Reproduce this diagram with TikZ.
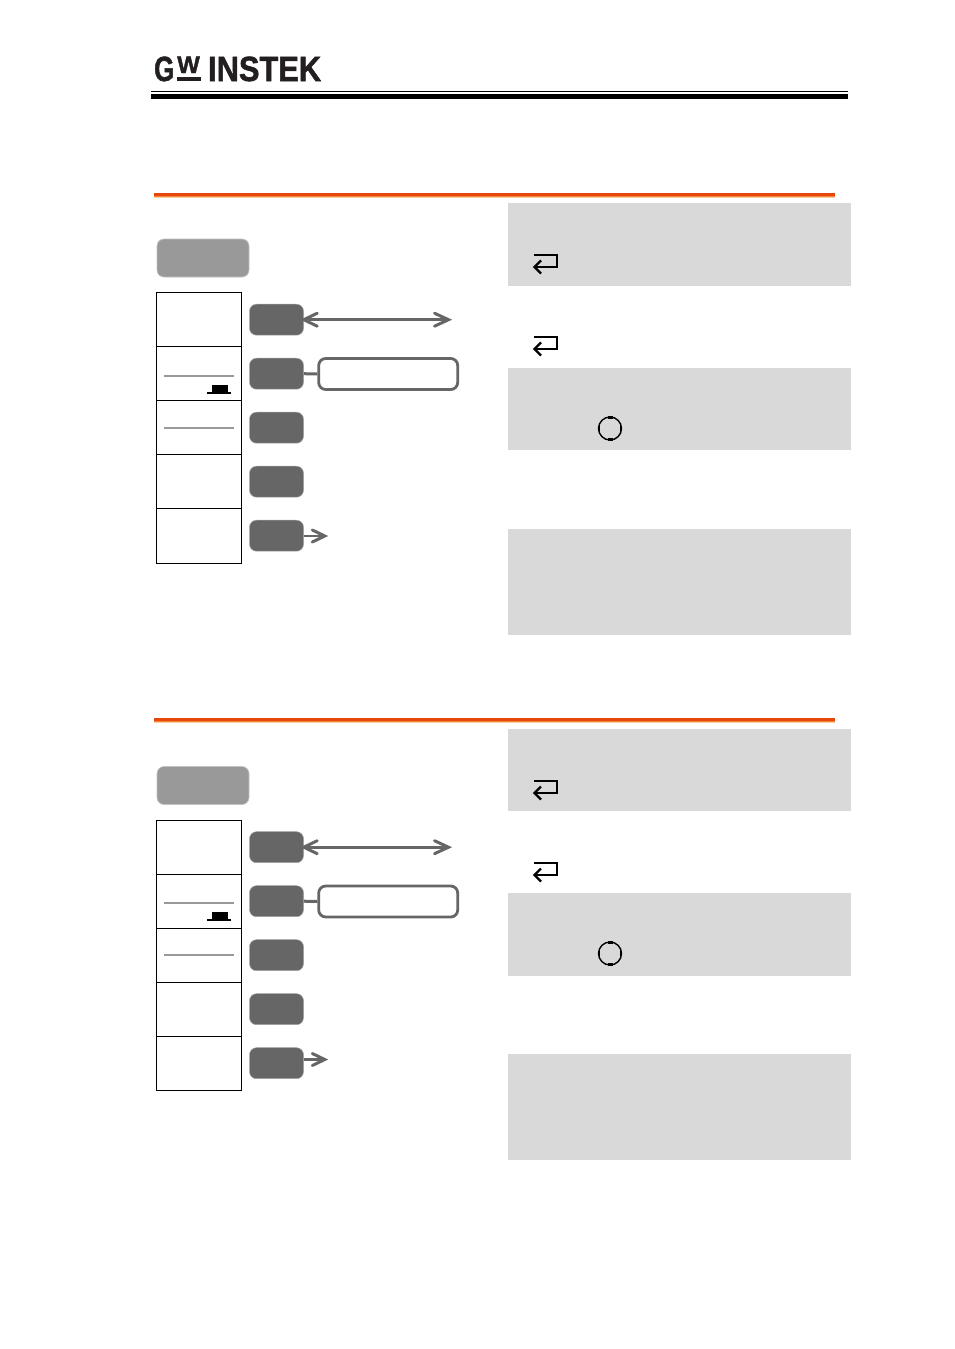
\documentclass[tikz,border=0pt]{standalone}
\usepackage{fontspec}
\setmainfont{Liberation Sans}
\newfontfamily\logofont[UprightFont=* Bold, RawFeature={embolden=1.6}]{Liberation Sans}
\usepackage{xcolor}
\definecolor{logoblack}{HTML}{231F20}
\definecolor{softgrey}{HTML}{D9D9D9}
\definecolor{keydark}{HTML}{666666}
\definecolor{keylight}{HTML}{999999}
\definecolor{ruleA}{HTML}{E8460A}
\definecolor{ruleB}{HTML}{F0893C}
\definecolor{ruleC}{HTML}{F9CBA3}
\tikzset{
	softkey/.style={rectangle, rounded corners=7pt, fill=keydark, draw=keydark!60!white, line width=0.5pt, minimum width=54pt, minimum height=31pt, inner sep=0pt},
	menukey/.style={rectangle, rounded corners=7pt, fill=keylight, draw=keylight!60!white, line width=0.6pt, minimum width=92pt, minimum height=38pt, inner sep=0pt},
	menucell/.style={rectangle, draw=black, line width=1.1pt, minimum width=85pt, minimum height=54pt, inner sep=0pt, outer sep=0pt, anchor=north},
	rangebox/.style={rectangle, rounded corners=7pt, draw=keydark, line width=2.8pt, fill=white, minimum width=139pt, minimum height=31pt, inner sep=0pt},
	keyline/.style={draw=keydark, line width=3pt},
	logotext/.style={inner sep=0pt, text=logoblack, anchor=base west},
}
\begin{document}
\begin{tikzpicture}[x=1pt,y=-1pt]
	\useasboundingbox (0,0) rectangle (954,1349);
	% header
	\node[logotext, xscale=0.74, font=\fontsize{35}{35}\selectfont\logofont] (logoG) at (154,81) {G};
	\node[logotext, font=\fontsize{24}{24}\selectfont\logofont] (logoW) at (177,73) {W};
	\node[logotext, xscale=0.88, font=\fontsize{35}{35}\selectfont\logofont] (logoName) at (208,81) {INSTEK};
	\fill[logoblack] (177,77) rectangle (201,81);
	\fill[black] (151,91) rectangle (848,92);
	\fill[black] (151,94) rectangle (848,99);
	% orange rules
	\foreach \y in {193,718} {
		\fill[ruleC] (154,\y) rectangle (835,\y+5);
		\fill[ruleB] (154,\y) rectangle (835,\y+4);
		\fill[ruleA] (154,\y) rectangle (835,\y+2.7);
	}
	% grey blocks on the right
	\foreach \top/\bot in {203/286, 368/450, 529/635, 729/811, 893/976, 1054/1160}
		\fill[softgrey] (508,\top) rectangle (851,\bot);
	% enter symbols
	\foreach \y in {255,337,781,863} {
		\draw[black, line width=2.3pt] (534,\y) -- (557,\y) -- (557,\y+12) -- (535,\y+12);
		\draw[black, line width=2.3pt] (541,\y+5.5) -- (534.5,\y+12) -- (541,\y+18.5);
	}
	% knobs
	\foreach \y in {428.5,953.5} {
		\draw[black, line width=1.4pt] (610,\y) circle (11.5);
		\fill[black] (607.5,\y-12.2) rectangle (612.5,\y-9.6);
		\fill[black] (607.5,\y+9.6) rectangle (612.5,\y+12.2);
		\fill[black] (597.8,\y-2.5) rectangle (600.4,\y+2.5);
		\fill[black] (619.6,\y-2.5) rectangle (622.2,\y+2.5);
	}
	% the two key panels
	\foreach \p/\dy/\dcell/\dmark/\ytip/\hlast in {A/0/0/0/536/55, B/527.5/528/527/1059.5/54} {
		\node[menukey] (top\p) at (203,258+\dy) {};
		\foreach \i in {1,...,4}
			\node[menucell] (cell\p\i) at (199,292.5+54*\i-54+\dcell) {};
		\node[menucell, minimum height=\hlast pt] (cell\p5) at (199,508.5+\dcell) {};
		\foreach \i in {1,...,5}
			\node[softkey] (key\p\i) at (276.5,319.7+54*\i-54+\dy) {};
		% second and third cell marks
		\draw[keylight, line width=2pt] (164,375.7+\dmark) -- (234,375.7+\dmark);
		\draw[keylight, line width=2pt] (164,427.7+\dmark) -- (234,427.7+\dmark);
		\fill[black] (212-\dmark/1054,385+\dmark) rectangle (228-\dmark/1054,393+\dmark);
		\fill[black] (207-\dmark/1054,392+\dmark) rectangle (231-\dmark/1054,393.5+\dmark);
		% connectors
		\coordinate (tip\p) at (448.5,319.7+\dy);
		\draw[keyline] (key\p1.east) -- (tip\p);
		\draw[keyline, line cap=round] (tip\p) ++(-14,-6.5) -- (tip\p) -- ++(-14,6.5);
		\draw[keyline, line cap=round] (key\p1.east) ++(13.5,-6.5) -- (key\p1.east) -- ++(13.5,6.5);
		\node[rangebox] (range\p) at (388.2,374+\dy) {};
		\draw[keyline] (key\p2.east) -- (range\p.west);
		\coordinate (out\p) at (324.8,\ytip);
		\coordinate (from\p) at (key\p5.east |- out\p);
		\draw[keyline, line width=2.4pt] (from\p) -- (out\p);
		\draw[keyline, line cap=round] (out\p) ++(-12.5,-6) -- (out\p) -- ++(-12.5,6);
	}
\end{tikzpicture}
\end{document}
